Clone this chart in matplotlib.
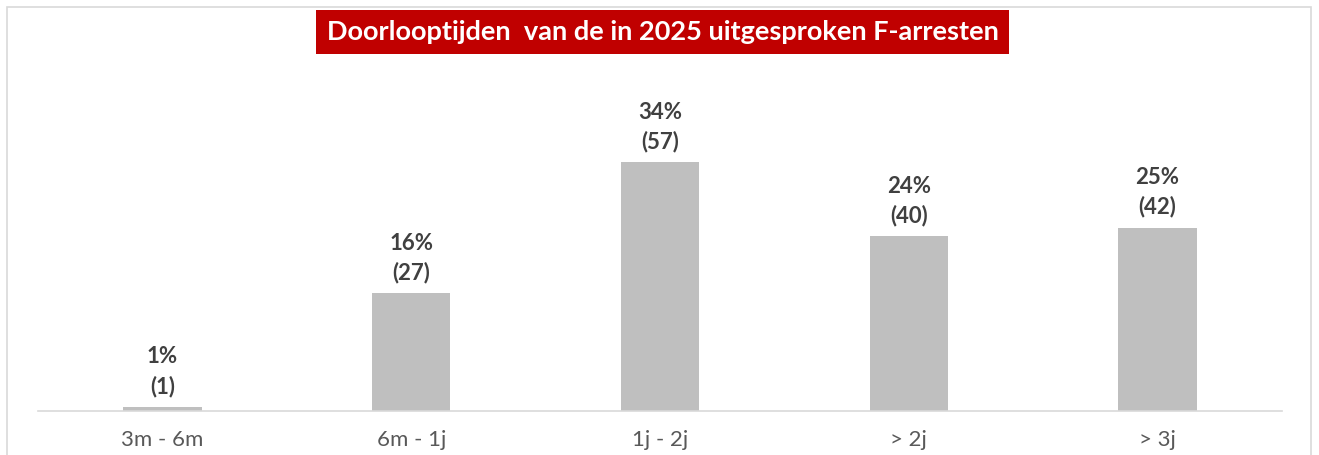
import matplotlib
matplotlib.use("Agg")
import matplotlib.pyplot as plt
from matplotlib.patches import Rectangle

categories = ["3m - 6m", "6m - 1j", "1j - 2j", "> 2j", "> 3j"]
counts = [1, 27, 57, 40, 42]
percentages = [1, 16, 34, 24, 25]
title = "Doorlooptijden  van de in 2025 uitgesproken F-arresten"

W, H = 1319, 455
plt.rcParams["font.family"] = ["Lato", "DejaVu Sans"]

fig = plt.figure(figsize=(W / 100, H / 100), dpi=100)

# chart border (bottom edge runs off the picture)
fig.patches.append(Rectangle((7 / W, -0.05), 1304 / W, 1.05 - 7 / H,
                             transform=fig.transFigure, fill=False,
                             edgecolor="#d9d9d9", linewidth=1.2))

# axes placed in pixel terms: baseline at y=411, x from 38 to 1282
ax = fig.add_axes([38 / W, (H - 411) / H, 1244 / W, 331 / H])
x = range(len(categories))
ax.bar(x, counts, width=0.315, color="#bfbfbf")
ax.set_xlim(-0.5, len(categories) - 0.5)
ax.set_ylim(0, 331 / (249 / 57))

for i, (c, p) in enumerate(zip(counts, percentages)):
    ax.annotate(f"{p}%\n({c})", (i, c), xytext=(0, 7), textcoords="offset points",
                ha="center", va="bottom", fontsize=16, fontweight="bold",
                color="#404040", linespacing=1.45)

ax.set_xticks(list(x))
ax.set_xticklabels(categories, fontsize=16, color="#595959")
ax.tick_params(axis="x", length=0, pad=14)
ax.set_yticks([])
for s in ["top", "right", "left"]:
    ax.spines[s].set_visible(False)
ax.spines["bottom"].set_color("#d9d9d9")
ax.spines["bottom"].set_linewidth(1.2)

fig.text(0.5 * (317 + 1008) / W, 1 - 32 / H, title, ha="center", va="center",
         fontsize=19.5, fontweight="bold", color="white",
         bbox=dict(boxstyle="square,pad=0.38", facecolor="#c00000", edgecolor="none"))

fig.savefig("out.png", dpi=100, facecolor="white")
